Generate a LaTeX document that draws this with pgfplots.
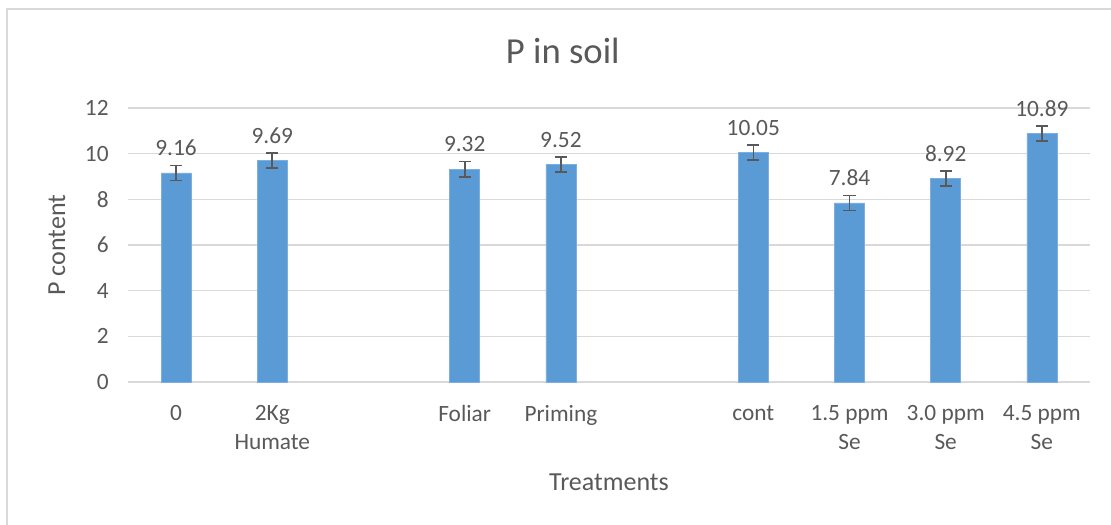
\documentclass[border=0pt]{standalone}
\usepackage{fontspec}
\setmainfont{Carlito}
\usepackage{pgfplots}
\usepackage{pgfplotstable}
\pgfplotsset{compat=1.18}
\definecolor{barblue}{HTML}{5B9BD5}
\definecolor{txt}{HTML}{595959}
\definecolor{gridc}{HTML}{D9D9D9}

\pgfplotstableread{
x y err
0 9.16 0.33
1 9.69 0.33
3 9.32 0.33
4 9.52 0.33
6 10.05 0.33
7 7.84 0.33
8 8.92 0.33
9 10.89 0.33
}\datatable

\begin{document}
\begin{tikzpicture}
\useasboundingbox (0,0) rectangle (833.25pt,-393.75pt);
\fill[white] (0,0) rectangle (833.25pt,-393.75pt);
\draw[gridc, line width=0.9pt] (5.25pt,-393.75pt) -- (5.25pt,-6.75pt) -- (833.25pt,-6.75pt);
\begin{axis}[
  at={(96pt,-286.5pt)}, anchor=south west,
  scale only axis, width=721.5pt, height=205.5pt,
  xmin=-0.5, xmax=9.5, ymin=0, ymax=12,
  ytick={0,2,...,12},
  xtick={0,1,3,4,6,7,8,9},
  xticklabels={0, 2Kg\\Humate, Foliar, Priming, cont, 1.5 ppm\\Se, 3.0 ppm\\Se, 4.5 ppm\\Se},
  axis line style={draw=none},
  major tick length=0pt,
  ymajorgrids, grid style={gridc, line width=0.8pt},
  /pgf/number format/assume math mode=true,
  ticklabel style={font=\fontsize{17.5}{21.75}\selectfont, text=txt},
  xticklabel style={align=center, yshift=-14pt},
  yticklabel style={xshift=-11pt},
  title={P in soil},
  title style={at={(axis description cs:0.452,1.18)}, anchor=center, font=\fontsize{27.5}{32}\selectfont, text=txt},
  xlabel={Treatments},
  xlabel style={at={(axis description cs:0.5,-0.365)}, anchor=center, font=\fontsize{19.5}{23}\selectfont, text=txt},
  ylabel={P content},
  ylabel style={at={(axis description cs:-0.0738,0.5)}, anchor=center, rotate=0, font=\fontsize{19.5}{23}\selectfont, text=txt},
  nodes near coords,
  point meta=explicit symbolic,
  nodes near coords align={anchor=center},
  every node near coord/.append style={anchor=center, yshift=18.75pt, font=\fontsize{17.5}{21}\selectfont, text=txt},
]
\addplot[ybar, bar width=22.5pt, fill=barblue, draw=barblue!80!white, line width=0.5pt,
  error bars/.cd, y dir=both, y explicit,
  error bar style={txt, line width=1.2pt},
  error mark options={txt, rotate=90, line width=1.2pt, mark size=4.6pt}]
  table[x=x, y=y, y error=err, meta=y] {\datatable};
\end{axis}
\end{tikzpicture}
\end{document}
